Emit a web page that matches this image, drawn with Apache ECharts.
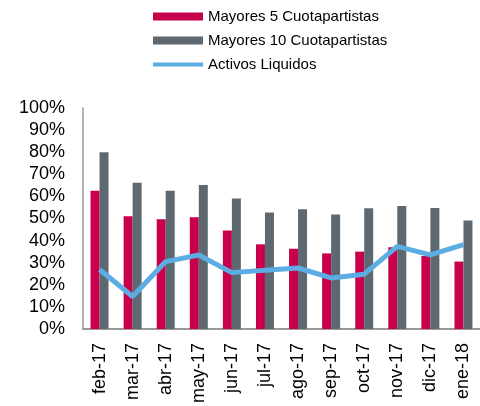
<!DOCTYPE html>
<html>
<head>
    <meta charset="utf-8">
    <title>Cuotapartistas</title>
    <script src="https://cdn.jsdelivr.net/npm/echarts@6/dist/echarts.min.js"></script>
    <style>
        html, body { margin: 0; padding: 0; background: #fff; }
        #main { width: 480px; height: 406px; }
    </style>
</head>
<body>
<div id="main"></div>
<script type="text/javascript">
    // datos
    var months = ['feb-17', 'mar-17', 'abr-17', 'may-17', 'jun-17', 'jul-17',
        'ago-17', 'sep-17', 'oct-17', 'nov-17', 'dic-17', 'ene-18'];
    var top5 = [62.5, 51, 49.7, 50.6, 44.6, 38.3, 36.3, 34.2, 35, 37, 33, 30.5];
    var top10 = [80, 66.2, 62.6, 65.2, 59, 52.7, 54.2, 51.8, 54.6, 55.7, 54.8, 49.1];
    var liquidos = [26.9, 14.7, 30.5, 33.5, 25.5, 26.6, 27.6, 23.1, 24.8, 37.4, 33.5, 38.2];

    var font = 'Liberation Sans, Arial, sans-serif';
    var myChart = echarts.init(document.getElementById('main'));

    var option = {
        animation: false,
        textStyle: { fontFamily: font },
        legend: {
            orient: 'vertical',
            left: 146,
            top: 4,
            itemWidth: 50,
            itemHeight: 8,
            itemGap: 9,
            textStyle: { fontSize: 15, color: '#000', fontFamily: font },
            data: [
                { name: 'Mayores 5 Cuotapartistas', icon: 'rect' },
                { name: 'Mayores 10 Cuotapartistas', icon: 'rect' },
                { name: 'Activos Liquidos', itemStyle: { opacity: 0 }, lineStyle: { width: 4 } }
            ]
        },
        grid: { left: 83, right: 0, top: 108, bottom: 76 },
        xAxis: {
            type: 'category',
            data: months,
            axisLine: { lineStyle: { color: '#999', width: 2 } },
            axisTick: { show: false },
            axisLabel: {
                rotate: 90,
                fontSize: 18,
                color: '#000',
                margin: 14,
                fontFamily: font
            }
        },
        yAxis: {
            type: 'value',
            min: 0,
            max: 100,
            interval: 10,
            axisLine: { show: true, lineStyle: { color: '#999', width: 1.5 } },
            axisTick: { show: false },
            splitLine: { show: false },
            axisLabel: {
                formatter: '{value}%',
                fontSize: 18,
                color: '#000',
                margin: 18,
                fontFamily: font
            }
        },
        series: [{
            name: 'Mayores 5 Cuotapartistas',
            type: 'bar',
            data: top5,
            barWidth: 9,
            barGap: '0%',
            itemStyle: { color: '#C8004B' }
        }, {
            name: 'Mayores 10 Cuotapartistas',
            type: 'bar',
            data: top10,
            barWidth: 9,
            itemStyle: { color: '#5E6870' }
        }, {
            name: 'Activos Liquidos',
            type: 'line',
            data: liquidos,
            symbol: 'none',
            lineStyle: { color: '#5BADE3', width: 5 },
            itemStyle: { color: '#5BADE3' }
        }]
    };

    myChart.setOption(option);
</script>
</body>
</html>
